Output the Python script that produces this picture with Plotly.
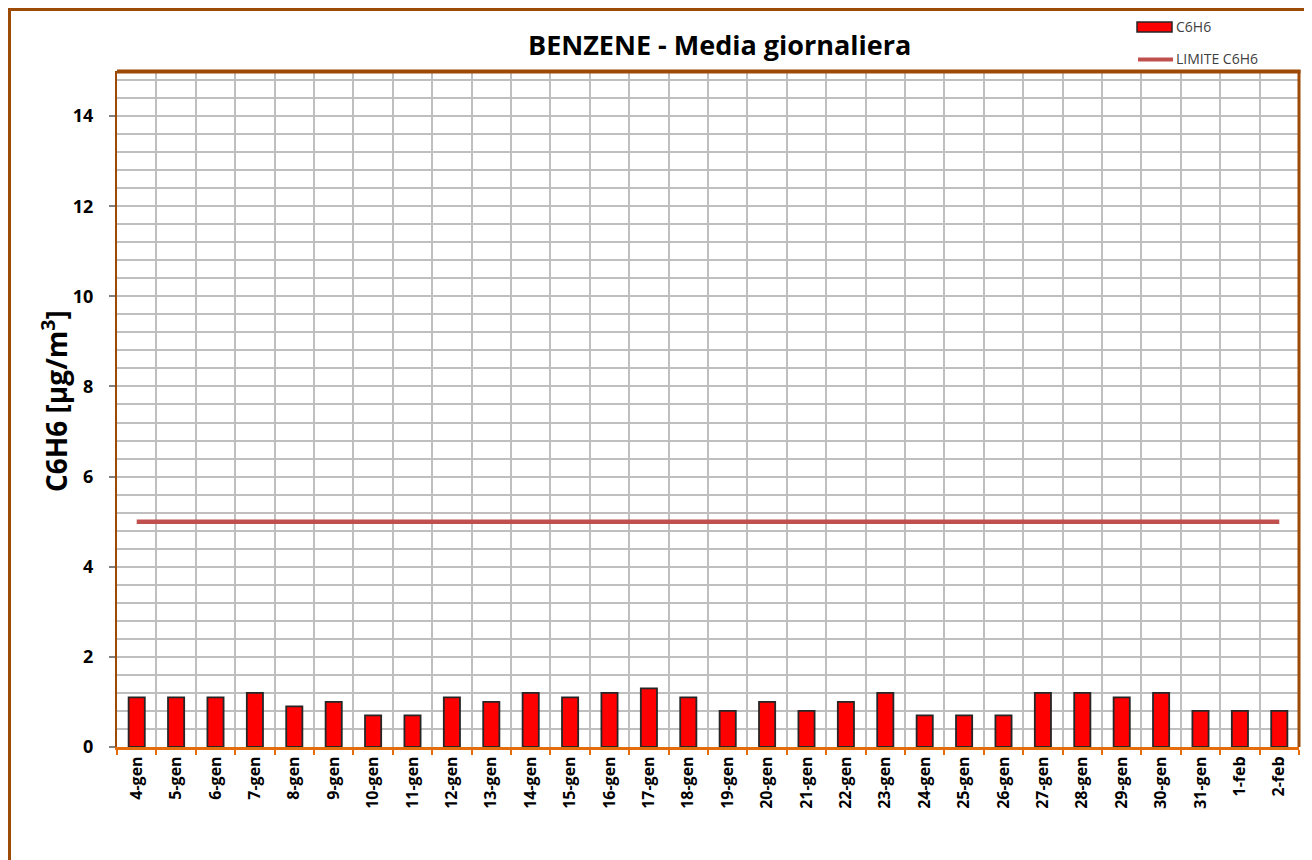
import plotly.graph_objects as go

dates = ["4-gen", "5-gen", "6-gen", "7-gen", "8-gen", "9-gen", "10-gen", "11-gen",
         "12-gen", "13-gen", "14-gen", "15-gen", "16-gen", "17-gen", "18-gen", "19-gen",
         "20-gen", "21-gen", "22-gen", "23-gen", "24-gen", "25-gen", "26-gen", "27-gen",
         "28-gen", "29-gen", "30-gen", "31-gen", "1-feb", "2-feb"]
c6h6 = [1.1, 1.1, 1.1, 1.2, 0.9, 1.0, 0.7, 0.7, 1.1, 1.0, 1.2, 1.1, 1.2, 1.3, 1.1, 0.8,
        1.0, 0.8, 1.0, 1.2, 0.7, 0.7, 0.7, 1.2, 1.2, 1.1, 1.2, 0.8, 0.8, 0.8]
limite = [5] * len(dates)

# page has an 8px body margin: work in target-window pixels, then offset
OFF = 8
W, H = 1312 - OFF, 860 - OFF
# plot area spans target x 117..1299, y 71..747
PX0, PX1, PY0, PY1 = 117, 1299, 71, 747
L = PX0 - OFF
R = W - (PX1 - OFF)
T = PY0 - OFF
B = H - (PY1 - OFF)
PW, PH = PX1 - PX0, PY1 - PY0

def px(x):
    return (x - PX0) / PW

def py(y):
    return (PY1 - y) / PH

FONT = "Open Sans"
BROWN = "#9E4A07"

fig = go.Figure()
fig.add_trace(go.Bar(x=dates, y=c6h6, name="C6H6", width=0.41,
                     marker=dict(color="#FF0000", line=dict(color="#262626", width=1.8))))
fig.add_trace(go.Scatter(x=dates, y=limite, name="LIMITE C6H6", mode="lines",
                         line=dict(color="#C0504D", width=4.5)))

shapes = []
# outer chart frame
shapes.append(dict(type="line", xref="paper", yref="paper", x0=px(9.5), x1=px(9.5),
                   y0=py(900), y1=py(8), line=dict(color=BROWN, width=3)))
shapes.append(dict(type="line", xref="paper", yref="paper", x0=px(8), x1=px(1330),
                   y0=py(9.5), y1=py(9.5), line=dict(color=BROWN, width=3)))
# plot area borders
shapes.append(dict(type="line", xref="paper", yref="paper", x0=0, x1=px(1300.5),
                   y0=py(71.5), y1=py(71.5), line=dict(color=BROWN, width=4)))
shapes.append(dict(type="line", xref="paper", yref="paper", x0=px(1299), x1=px(1299),
                   y0=0, y1=py(70), line=dict(color=BROWN, width=3)))
# legend swatches
shapes.append(dict(type="rect", xref="paper", yref="paper", x0=px(1137), x1=px(1172),
                   y0=py(32), y1=py(22), fillcolor="#FF0000",
                   line=dict(color="#262626", width=1.5)))
shapes.append(dict(type="line", xref="paper", yref="paper", x0=px(1138), x1=px(1173),
                   y0=py(59.5), y1=py(59.5), line=dict(color="#C0504D", width=4)))

annotations = [
    dict(text="C6H6", xref="paper", yref="paper", x=px(1174), y=py(27), xanchor="left",
         yanchor="middle", showarrow=False, font=dict(family=FONT, size=14, color="#404040")),
    dict(text="LIMITE C6H6", xref="paper", yref="paper", x=px(1174), y=py(59), xanchor="left",
         yanchor="middle", showarrow=False, font=dict(family=FONT, size=14, color="#404040")),
    dict(text="<b>C6H6 [µg/m<sup>3</sup>]</b>", xref="paper", yref="paper", x=px(54), y=py(401),
         xanchor="center", yanchor="middle", textangle=-90, showarrow=False,
         font=dict(family=FONT, size=28, color="#000000")),
    dict(text="<b>BENZENE - Media giornaliera</b>", xref="paper", yref="paper", x=px(719),
         y=py(44), xanchor="center", yanchor="middle", showarrow=False,
         font=dict(family=FONT, size=27, color="#000000")),
]

fig.update_layout(
    width=W, height=H,
    margin=dict(l=L, r=R, t=T, b=B, pad=0),
    paper_bgcolor="white", plot_bgcolor="white",
    showlegend=False,
    shapes=shapes, annotations=annotations,
    bargap=0.59,
)
fig.update_xaxes(
    type="category", tickson="boundaries", showgrid=True, gridcolor="#BFBFBF", gridwidth=1.5,
    ticks="outside", ticklen=5, tickcolor="#E46C0A", tickwidth=1.5,
    showline=True, linecolor="#E46C0A", linewidth=3,
    tickangle=-90, tickfont=dict(family=FONT, size=16, color="#000000", weight="bold"),
    range=[-0.5, len(dates) - 0.5],
)
fig.update_yaxes(
    range=[0, 15], dtick=2, tick0=0, showgrid=True, gridcolor="#BFBFBF", gridwidth=1.5,
    minor=dict(dtick=0.4, tick0=0, showgrid=True, gridcolor="#BFBFBF", gridwidth=1.5),
    ticks="outside", ticklen=6, tickcolor="#808080", tickwidth=1.5,
    showline=True, linecolor=BROWN, linewidth=2, zeroline=False,
    tickfont=dict(family=FONT, size=18, color="#000000", weight="bold"),
    ticklabelstandoff=12,
)
fig.write_html("out.html")
